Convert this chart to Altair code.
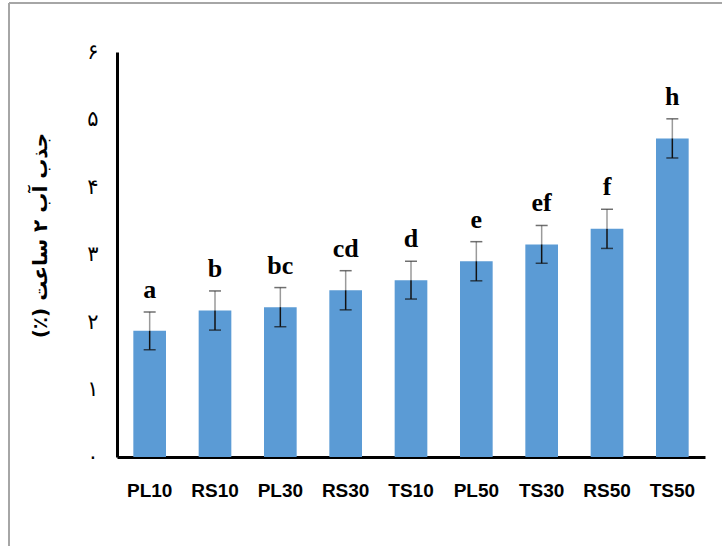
import altair as alt
import pandas as pd

categories = ["PL10", "RS10", "PL30", "RS30", "TS10", "PL50", "TS30", "RS50", "TS50"]
values = [1.87, 2.17, 2.22, 2.47, 2.62, 2.90, 3.15, 3.38, 4.72]
errors = [0.28, 0.29, 0.29, 0.29, 0.28, 0.29, 0.28, 0.29, 0.29]
letters = ["a", "b", "bc", "cd", "d", "e", "ef", "f", "h"]
y_title = "\u200fجذب آب ۲ ساعت (٪)\u200f"

df = pd.DataFrame({"cat": categories, "val": values, "err": errors, "let": letters})
df["lo"] = df["val"] - df["err"]
df["hi"] = df["val"] + df["err"]

x = alt.X("cat:N", sort=categories,
          scale=alt.Scale(paddingInner=0.5, paddingOuter=0.25),
          axis=alt.Axis(title=None, labelAngle=0, labelFont="Liberation Sans",
                        labelFontWeight="bold", labelFontSize=19, labelColor="black",
                        labelPadding=24, ticks=False, domainColor="black", domainWidth=3))
y_scale = alt.Scale(domain=[0, 6], nice=False)
y_axis = alt.Axis(title=y_title, values=[0, 1, 2, 3, 4, 5, 6], grid=False, ticks=False,
                  domainColor="black", domainWidth=3,
                  labelExpr="['۰','۱','۲','۳','۴','۵','۶'][datum.value]",
                  labelFont="DejaVu Sans", labelFontSize=21, labelColor="black",
                  labelPadding=19,
                  titleFont="DejaVu Sans", titleFontSize=20, titleFontWeight="bold",
                  titleColor="black", titleAngle=270, titleAlign="center",
                  titleBaseline="middle", titleX=-77, titleY=183)

base = alt.Chart(df)
bars = base.mark_bar(color="#5B9BD5").encode(
    x=x, y=alt.Y("val:Q", scale=y_scale, axis=y_axis))
upper = base.mark_rule(color="#9a9a9a", strokeWidth=1.5).encode(
    x=alt.X("cat:N", sort=categories), y="val:Q", y2="hi:Q")
lower = base.mark_rule(color="#111111", strokeWidth=1.5).encode(
    x=alt.X("cat:N", sort=categories), y="lo:Q", y2="val:Q")
cap_hi = base.mark_tick(color="#333333", size=12, thickness=1.5).encode(
    x=alt.X("cat:N", sort=categories), y="hi:Q")
cap_lo = base.mark_tick(color="#111111", size=12, thickness=1.5).encode(
    x=alt.X("cat:N", sort=categories), y="lo:Q")
labels = base.mark_text(font="Liberation Serif", fontWeight="bold", fontSize=26,
                        color="black", baseline="alphabetic", dy=-14).encode(
    x=alt.X("cat:N", sort=categories), y="hi:Q", text="let:N")

frame = alt.Chart(alt.Data(values=[{}]))
frame_left = frame.mark_rule(color="#a6a6a6", strokeWidth=2).encode(
    x=alt.value(-108), y=alt.value(-49), y2=alt.value(600))
frame_top = frame.mark_rule(color="#a6a6a6", strokeWidth=2).encode(
    x=alt.value(-108), x2=alt.value(700), y=alt.value(-49))

chart = alt.layer(frame_left, frame_top, bars, upper, lower, cap_hi, cap_lo, labels).properties(
    width=588, height=405,
    autosize=alt.AutoSizeParams(type="none"),
    padding={"left": 117, "top": 52, "right": 17, "bottom": 89},
    background="white",
).configure_view(stroke=None)

chart.save("out.html", embed_options={"renderer": "svg", "actions": False})
